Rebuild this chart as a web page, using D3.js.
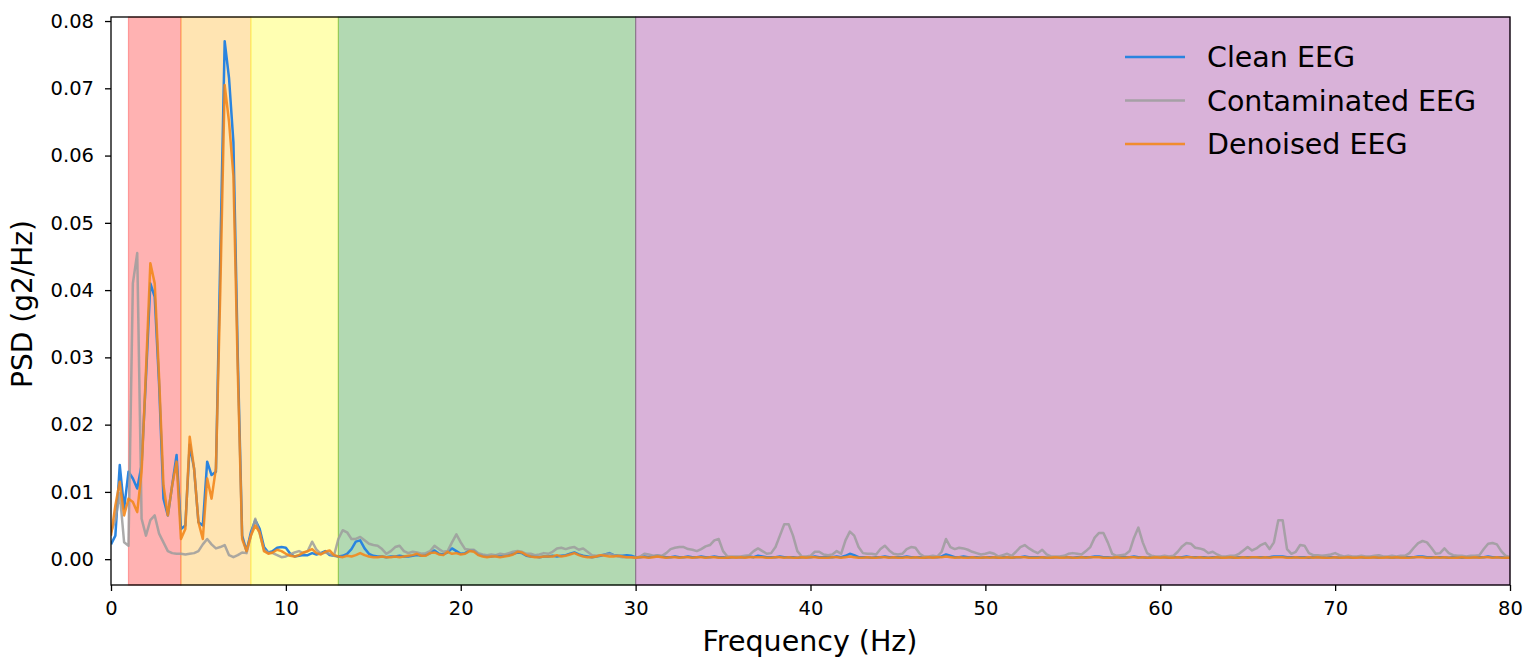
<!DOCTYPE html>
<html><head><meta charset="utf-8">
<script src="https://cdn.jsdelivr.net/npm/d3@7"></script>
<style>
body{margin:0;background:#fff}
text{font-family:"DejaVu Sans",sans-serif;fill:#000}
</style>
</head><body>
<svg id="chart" width="1532" height="668"></svg>
<script>
// frequency resolution of the PSD (Hz per bin)
const FREQ_STEP = 0.25;

const clean = [
0.0022,0.0035,0.014,0.0075, 0.013,0.012,0.0105,0.014, 0.027,0.041,0.039,0.026, 0.009,0.0065,0.011,0.0155,
0.0045,0.005,0.017,0.0135, 0.0055,0.005,0.0145,0.0125, 0.013,0.045,0.077,0.0715, 0.062,0.03,0.0035,0.0012,
0.004,0.0058,0.0045,0.0018, 0.001,0.0012,0.0017,0.0018, 0.0017,0.0008,0.0004,0.0005, 0.0006,0.0006,0.0009,0.0007,
0.0009,0.0012,0.0006,0.0005, 0.0004,0.0005,0.0008,0.0015, 0.0026,0.0028,0.0016,0.0008,
0.0005,0.0004,0.0004,0.0003, 0.0004,0.0004,0.0005,0.0004, 0.0004,0.0005,0.0006,0.0005, 0.0006,0.0009,0.0013,0.0008,
0.0007,0.001,0.0016,0.0012, 0.0008,0.0009,0.0013,0.0013, 0.0007,0.0005,0.0004,0.0004, 0.0005,0.0004,0.0005,0.0006,
0.0008,0.001,0.0009,0.0005, 0.0004,0.0004,0.0003,0.0004, 0.0004,0.0005,0.0004,0.0005, 0.0006,0.0008,0.001,0.0007,
0.0005,0.0004,0.0003,0.0004, 0.0005,0.0007,0.0009,0.0006, 0.0005,0.0005,0.0006,0.0005, 0.0003,0.0003,0.0004,0.0003,
0.0004,0.0005,0.0004,0.0003, 0.0003,0.0004,0.0003,0.0003, 0.0004,0.0003,0.0003,0.0004, 0.0003,0.0003,0.0004,0.0003,
0.0003,0.0002,0.0003,0.0003, 0.0003,0.0003,0.0004,0.0003, 0.0005,0.0004,0.0003,0.0003, 0.0003,0.0004,0.0003,0.0003,
0.0003,0.0002,0.0003,0.0003, 0.0003,0.0004,0.0003,0.0003, 0.0003,0.0003,0.0004,0.0003, 0.0005,0.0008,0.0006,0.0003,
0.0003,0.0003,0.0002,0.0003, 0.0003,0.0004,0.0003,0.0003, 0.0003,0.0003,0.0004,0.0003, 0.0003,0.0003,0.0002,0.0003,
0.0003,0.0003,0.0004,0.0007, 0.0005,0.0003,0.0003,0.0004, 0.0003,0.0003,0.0003,0.0002, 0.0003,0.0003,0.0003,0.0002,
0.0003,0.0003,0.0002,0.0003, 0.0003,0.0004,0.0003,0.0003, 0.0003,0.0003,0.0002,0.0002, 0.0003,0.0003,0.0003,0.0003,
0.0002,0.0003,0.0003,0.0003, 0.0003,0.0004,0.0004,0.0003, 0.0003,0.0002,0.0003,0.0003, 0.0003,0.0003,0.0004,0.0003,
0.0003,0.0002,0.0003,0.0003, 0.0003,0.0003,0.0002,0.0003, 0.0003,0.0003,0.0004,0.0003, 0.0003,0.0003,0.0003,0.0002,
0.0003,0.0003,0.0002,0.0003, 0.0003,0.0002,0.0003,0.0003, 0.0003,0.0003,0.0003,0.0003, 0.0003,0.0003,0.0004,0.0004,
0.0004,0.0003,0.0003,0.0003, 0.0003,0.0003,0.0002,0.0003, 0.0003,0.0003,0.0002,0.0003, 0.0003,0.0002,0.0003,0.0003,
0.0002,0.0003,0.0003,0.0002, 0.0003,0.0003,0.0002,0.0003, 0.0003,0.0002,0.0003,0.0003, 0.0003,0.0003,0.0003,0.0004,
0.0004,0.0003,0.0003,0.0003, 0.0003,0.0003,0.0002,0.0003, 0.0003,0.0002,0.0003,0.0003, 0.0003,0.0003,0.0003,0.0004,
0.0003,0.0003,0.0003,0.0002, 0.0002
];

const contaminated = [
0.004,0.0058,0.0098,0.0025, 0.002,0.041,0.0455,0.006, 0.0035,0.0058,0.0065,0.0038, 0.0025,0.0012,0.0009,0.0008,
0.0008,0.0007,0.0008,0.0009, 0.0012,0.0022,0.003,0.0022, 0.0016,0.0018,0.0021,0.0006, 0.0003,0.0006,0.001,0.0009,
0.0035,0.006,0.0038,0.0014, 0.001,0.0009,0.0006,0.0003, 0.0004,0.0007,0.001,0.0012, 0.0009,0.0012,0.0026,0.0014,
0.0008,0.001,0.0008,0.0005, 0.003,0.0043,0.004,0.003, 0.003,0.0033,0.0028,0.0023,
0.0021,0.002,0.0015,0.0008, 0.0012,0.0018,0.002,0.0012, 0.0009,0.0011,0.001,0.0008, 0.0009,0.0012,0.002,0.0015,
0.0011,0.0012,0.0025,0.0037, 0.0025,0.0015,0.0014,0.0014, 0.0009,0.0007,0.0006,0.0007, 0.0006,0.0008,0.0007,0.0009,
0.0011,0.0012,0.0011,0.0008, 0.0008,0.0006,0.0007,0.0009, 0.0008,0.0011,0.0016,0.0017, 0.0015,0.0017,0.0018,0.0014,
0.0016,0.0011,0.0006,0.0005, 0.0006,0.0007,0.0008,0.0006, 0.0004,0.0003,0.0003,0.0003, 0.0002,0.0004,0.0008,0.0007,
0.0005,0.0006,0.0005,0.0009, 0.0015,0.0017,0.0018,0.0018, 0.0015,0.0014,0.0012,0.0015, 0.0019,0.0021,0.0028,0.003,
0.0012,0.0004,0.0004,0.0004, 0.0004,0.0005,0.0006,0.0012, 0.0016,0.0012,0.0008,0.0009, 0.0018,0.0035,0.0052,0.0052,
0.0035,0.0012,0.0004,0.0004, 0.0005,0.0011,0.0011,0.0007, 0.0006,0.0007,0.0012,0.0008, 0.0028,0.0041,0.0035,0.0018,
0.0009,0.0008,0.0008,0.0007, 0.0015,0.002,0.0013,0.0008, 0.0007,0.0008,0.0015,0.0018, 0.0017,0.0008,0.0004,0.0004,
0.0005,0.0004,0.0011,0.003, 0.0018,0.0015,0.0017,0.0016, 0.0014,0.0011,0.0009,0.0007, 0.0008,0.001,0.0008,0.0004,
0.0006,0.0008,0.0005,0.0011, 0.0018,0.0021,0.0016,0.0012, 0.0009,0.0014,0.0007,0.0004, 0.0004,0.0004,0.0005,0.0008,
0.0009,0.0008,0.0007,0.0012, 0.0018,0.0032,0.0039,0.0039, 0.0025,0.0008,0.0005,0.0006, 0.0007,0.0012,0.0032,0.0047,
0.0025,0.0009,0.0005,0.0004, 0.0004,0.0005,0.0004,0.0005, 0.0011,0.0019,0.0024,0.0023, 0.0017,0.0016,0.0014,0.0009,
0.0011,0.0007,0.0004,0.0004, 0.0005,0.0005,0.0008,0.0013, 0.0018,0.0013,0.0016,0.0021, 0.0024,0.0015,0.0025,0.0058,
0.0058,0.0015,0.0008,0.0011, 0.0021,0.002,0.0009,0.0006, 0.0006,0.0005,0.0006,0.0007, 0.0009,0.0006,0.0004,0.0005,
0.0004,0.0004,0.0005,0.0004, 0.0004,0.0005,0.0006,0.0004, 0.0004,0.0005,0.0004,0.0005, 0.0005,0.0009,0.0017,0.0024,
0.0027,0.0025,0.0017,0.0008, 0.0009,0.0016,0.0009,0.0006, 0.0005,0.0005,0.0004,0.0005, 0.0005,0.0006,0.0015,0.0023,
0.0024,0.0022,0.0012,0.0005, 0.0003
];

const denoised = [
0.0035,0.008,0.0115,0.0065, 0.009,0.0085,0.007,0.013, 0.028,0.044,0.041,0.027, 0.011,0.0065,0.011,0.0145,
0.003,0.0045,0.0182,0.0135, 0.0055,0.003,0.012,0.009, 0.0135,0.04,0.0705,0.065, 0.057,0.028,0.003,0.0012,
0.0035,0.005,0.004,0.0012, 0.0008,0.001,0.0014,0.0012, 0.0008,0.0005,0.0004,0.0006, 0.001,0.0012,0.0015,0.0009,
0.0007,0.0011,0.0013,0.0006, 0.0004,0.0003,0.0005,0.0004, 0.0006,0.0009,0.0006,0.0004,
0.0003,0.0003,0.0004,0.0003, 0.0003,0.0004,0.0003,0.0004, 0.0005,0.0006,0.0008,0.0005, 0.0005,0.0009,0.001,0.0007,
0.0006,0.0011,0.0008,0.0009, 0.0007,0.0008,0.0012,0.0011, 0.0006,0.0004,0.0003,0.0004, 0.0004,0.0003,0.0004,0.0005,
0.0007,0.0011,0.001,0.0006, 0.0004,0.0003,0.0003,0.0004, 0.0004,0.0004,0.0006,0.0004, 0.0005,0.0007,0.0009,0.0006,
0.0004,0.0003,0.0003,0.0004, 0.0006,0.0005,0.0004,0.0004, 0.0005,0.0004,0.0003,0.0003, 0.0002,0.0003,0.0003,0.0002,
0.0003,0.0004,0.0003,0.0002, 0.0003,0.0003,0.0002,0.0003, 0.0003,0.0002,0.0003,0.0003, 0.0002,0.0003,0.0003,0.0002,
0.0002,0.0002,0.0003,0.0002, 0.0003,0.0002,0.0003,0.0003, 0.0003,0.0003,0.0002,0.0002, 0.0003,0.0003,0.0002,0.0003,
0.0002,0.0002,0.0003,0.0002, 0.0003,0.0003,0.0002,0.0002, 0.0002,0.0003,0.0003,0.0002, 0.0003,0.0004,0.0003,0.0002,
0.0002,0.0003,0.0002,0.0002, 0.0003,0.0003,0.0002,0.0003, 0.0002,0.0002,0.0003,0.0002, 0.0003,0.0002,0.0002,0.0003,
0.0002,0.0003,0.0003,0.0004, 0.0003,0.0002,0.0003,0.0002, 0.0002,0.0003,0.0002,0.0002, 0.0003,0.0002,0.0003,0.0002,
0.0002,0.0003,0.0002,0.0003, 0.0003,0.0003,0.0002,0.0002, 0.0002,0.0003,0.0002,0.0002, 0.0003,0.0002,0.0002,0.0003,
0.0002,0.0002,0.0003,0.0002, 0.0003,0.0003,0.0003,0.0002, 0.0002,0.0002,0.0003,0.0002, 0.0002,0.0003,0.0003,0.0002,
0.0003,0.0002,0.0002,0.0003, 0.0002,0.0003,0.0002,0.0002, 0.0003,0.0002,0.0003,0.0003, 0.0002,0.0003,0.0002,0.0002,
0.0002,0.0003,0.0002,0.0002, 0.0003,0.0002,0.0002,0.0003, 0.0002,0.0003,0.0003,0.0002, 0.0003,0.0002,0.0003,0.0003,
0.0003,0.0002,0.0002,0.0003, 0.0002,0.0002,0.0003,0.0002, 0.0003,0.0002,0.0002,0.0002, 0.0003,0.0002,0.0002,0.0003,
0.0002,0.0002,0.0003,0.0002, 0.0002,0.0003,0.0002,0.0002, 0.0003,0.0002,0.0003,0.0002, 0.0002,0.0002,0.0003,0.0003,
0.0003,0.0002,0.0002,0.0003, 0.0002,0.0003,0.0002,0.0002, 0.0002,0.0003,0.0002,0.0002, 0.0003,0.0002,0.0003,0.0003,
0.0002,0.0003,0.0002,0.0002, 0.0002
];

const freqs = clean.map((_, i) => i * FREQ_STEP);

const bandStart  = [1, 4, 8, 13, 30];
const bandEnd    = [4, 8, 13, 30, 80];
const bandColors = ["#ff0000", "#ffa500", "#ffff00", "#008000", "#800080"];

const xTicks = [0, 10, 20, 30, 40, 50, 60, 70, 80];
const yTicks = [0, 0.01, 0.02, 0.03, 0.04, 0.05, 0.06, 0.07, 0.08];

const seriesNames  = ["Clean EEG", "Contaminated EEG", "Denoised EEG"];
const seriesColors = ["#2a84df", "#9c9c9c", "#f3871c"];
const seriesAlpha  = [1, 0.85, 0.9];
const seriesData   = [clean, contaminated, denoised];

const svg = d3.select("#chart");
const L = 111, R = 1510, T = 17, B = 585;
const x = d3.scaleLinear().domain([0, 80]).range([L, R]);
const y = d3.scaleLinear().domain([-0.00384, 0.0806]).range([B, T]);

// bands
svg.append("g").selectAll("rect").data(bandStart).join("rect")
  .attr("x", (d) => x(d))
  .attr("y", T)
  .attr("width", (d, i) => x(bandEnd[i]) - x(d))
  .attr("height", B - T)
  .attr("fill", (d, i) => bandColors[i])
  .attr("fill-opacity", 0.3)
  .attr("stroke", (d, i) => bandColors[i])
  .attr("stroke-opacity", 0.3)
  .attr("stroke-width", 1.2);

// lines
svg.append("clipPath").attr("id", "clip").append("rect")
  .attr("x", L).attr("y", T).attr("width", R - L).attr("height", B - T);
const lineGen = (vals) => d3.line().x((d, i) => x(freqs[i])).y((d) => y(d))(vals);
svg.append("g").attr("clip-path", "url(#clip)")
  .selectAll("path").data(seriesData).join("path")
  .attr("d", (d) => lineGen(d))
  .attr("fill", "none")
  .attr("stroke", (d, i) => seriesColors[i])
  .attr("stroke-opacity", (d, i) => seriesAlpha[i])
  .attr("stroke-width", 2.5)
  .attr("stroke-linejoin", "round");

// axes
const xAxis = svg.append("g").attr("transform", `translate(0,${B})`)
  .call(d3.axisBottom(x).tickValues(xTicks).tickFormat(d3.format("d")).tickSize(6).tickPadding(10));
const yAxis = svg.append("g").attr("transform", `translate(${L},0)`)
  .call(d3.axisLeft(y).tickValues(yTicks).tickFormat(d3.format(".2f")).tickSize(6).tickPadding(11));
[xAxis, yAxis].forEach(g => {
  g.select(".domain").remove();
  g.selectAll(".tick line").attr("stroke", "#000").attr("stroke-width", 1.3);
  g.selectAll(".tick text").attr("font-size", 19.5).attr("font-family", "DejaVu Sans").attr("fill", "#000");
});

// frame
svg.append("rect").attr("x", L).attr("y", T).attr("width", R - L).attr("height", B - T)
  .attr("fill", "none").attr("stroke", "#000").attr("stroke-width", 1.3);

// axis titles
svg.append("text").attr("x", 810).attr("y", 651).attr("text-anchor", "middle")
  .attr("font-size", 28.5).text("Frequency (Hz)");
svg.append("text").attr("transform", "translate(32,304) rotate(-90)").attr("text-anchor", "middle")
  .attr("font-size", 28).text("PSD (g2/Hz)");

// legend
const leg = svg.append("g").selectAll("g").data(seriesNames).join("g")
  .attr("transform", (d, i) => `translate(1125,${57 + i * 43.5})`);
leg.append("line").attr("x1", 0).attr("x2", 60).attr("y1", 0).attr("y2", 0)
  .attr("stroke", (d, i) => seriesColors[i]).attr("stroke-opacity", (d, i) => seriesAlpha[i])
  .attr("stroke-width", 2.5);
leg.append("text").attr("x", 82).attr("y", 0).attr("dy", "0.36em")
  .attr("font-size", 28.5).text((d) => d);
</script>
</body></html>
